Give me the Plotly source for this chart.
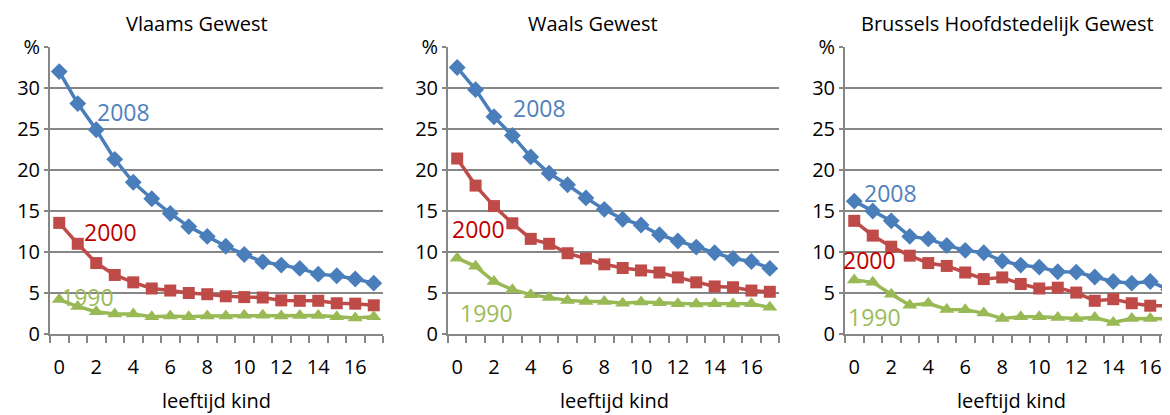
import plotly.graph_objects as go

ages = list(range(18))

regions = ["Vlaams Gewest", "Waals Gewest", "Brussels Hoofdstedelijk Gewest"]
years = ["2008", "2000", "1990"]

vl_2008 = [32.0, 28.1, 24.9, 21.3, 18.5, 16.5, 14.7, 13.1, 11.9, 10.7, 9.7, 8.8, 8.4, 8.0, 7.3, 7.1, 6.7, 6.2]
vl_2000 = [13.55, 11.0, 8.65, 7.2, 6.3, 5.55, 5.3, 5.0, 4.85, 4.6, 4.5, 4.45, 4.1, 4.05, 4.05, 3.75, 3.7, 3.5]
vl_1990 = [4.2, 3.35, 2.7, 2.45, 2.45, 2.1, 2.2, 2.1, 2.2, 2.2, 2.3, 2.3, 2.2, 2.25, 2.25, 2.1, 1.95, 2.1]

wa_2008 = [32.5, 29.8, 26.5, 24.2, 21.6, 19.6, 18.2, 16.6, 15.2, 14.0, 13.3, 12.1, 11.35, 10.6, 9.9, 9.2, 8.85, 8.0]
wa_2000 = [21.4, 18.1, 15.6, 13.5, 11.6, 11.0, 9.85, 9.2, 8.5, 8.05, 7.75, 7.5, 6.9, 6.3, 5.8, 5.7, 5.3, 5.15]
wa_1990 = [9.25, 8.25, 6.4, 5.4, 4.8, 4.45, 4.1, 3.95, 3.95, 3.75, 3.9, 3.8, 3.7, 3.65, 3.7, 3.65, 3.7, 3.25]

br_2008 = [16.2, 15.0, 13.8, 11.9, 11.6, 10.8, 10.2, 9.9, 8.9, 8.4, 8.15, 7.6, 7.55, 6.95, 6.4, 6.2, 6.4, 5.4]
br_2000 = [13.8, 12.0, 10.65, 9.55, 8.65, 8.3, 7.5, 6.7, 6.9, 6.1, 5.55, 5.65, 5.05, 4.05, 4.25, 3.75, 3.45, 3.45]
br_1990 = [6.6, 6.3, 4.85, 3.5, 3.75, 3.0, 2.95, 2.55, 1.9, 2.1, 2.1, 2.0, 1.9, 2.0, 1.4, 1.9, 1.9, 1.85]

x_ticks = [0, 2, 4, 6, 8, 10, 12, 14, 16]
y_ticks = [0, 5, 10, 15, 20, 25, 30, 35]
y_ticktext = ["0", "5", "10", "15", "20", "25", "30", "%"]
x_title = "leeftijd kind"

data = {
    0: [vl_2008, vl_2000, vl_1990],
    1: [wa_2008, wa_2000, wa_1990],
    2: [br_2008, br_2000, br_1990],
}

line_colors = ["#4A7EBB", "#BE4B48", "#98B954"]
label_colors = ["#4F81BD", "#C00000", "#9BBB59"]
symbols = ["diamond", "square", "triangle-up"]
msizes = [13, 12, 13]

FONT = "Open Sans"
# the page body adds an 8px margin; figure sized so it ends at the window edge
W, H = 1162, 407
px_left = [42, 440, 837]
px_right = [375, 771, 1162]
ranges = [[-0.5, 17.5], [-0.5, 17.5], [-0.5, -0.5 + (1162 - 837) / 18.5]]
y_top_px, y_bot_px = 39, 326

fig = go.Figure()
for i in range(3):
    sfx = "" if i == 0 else str(i + 1)
    for j in range(3):
        fig.add_trace(go.Scatter(
            x=ages, y=data[i][j], mode="lines+markers",
            line=dict(color=line_colors[j], width=3.5),
            marker=dict(symbol=symbols[j], size=msizes[j], color=line_colors[j]),
            xaxis="x" + sfx, yaxis="y" + sfx, showlegend=False, name=years[j],
        ))
    fig.layout["xaxis" + sfx] = dict(
        domain=[px_left[i] / W, px_right[i] / W], range=ranges[i],
        anchor="y" + sfx, tickmode="array", tickvals=x_ticks,
        ticks="", showgrid=False, zeroline=False, automargin=False,
        showline=True, linecolor="#868686", linewidth=2,
        tickfont=dict(family=FONT, size=20, color="#000"),
        ticklabelstandoff=14,
        minor=dict(tick0=-0.5, dtick=1, ticks="outside", ticklen=7,
                   tickcolor="#868686", tickwidth=2, showgrid=False),
    )
    fig.layout["yaxis" + sfx] = dict(
        domain=[1 - y_bot_px / H, 1 - y_top_px / H], range=[0, 35],
        anchor="x" + sfx, tickmode="array", tickvals=y_ticks, ticktext=y_ticktext,
        ticks="outside", ticklen=4, tickcolor="#868686", tickwidth=2,
        showgrid=True, gridcolor="#868686", gridwidth=2, zeroline=False,
        showline=True, linecolor="#868686", linewidth=2, automargin=False,
        tickfont=dict(family=FONT, size=20, color="#000"),
    )

titles_x = [189, 585, 999]
ann = []
for i in range(3):
    ann.append(dict(text=regions[i], x=titles_x[i] / W, y=1 - 16 / H, xref="paper", yref="paper",
                    showarrow=False, font=dict(family=FONT, size=20, color="#000"),
                    xanchor="center", yanchor="middle"))
    ann.append(dict(text=x_title, x=(px_left[i] + 166.5) / W, y=0,
                    xref="paper", yref="paper", showarrow=False,
                    font=dict(family=FONT, size=20, color="#000"),
                    xanchor="center", yanchor="bottom", borderpad=0))

label_pos = {
    0: [(3.45, 27.1), (2.77, 12.45), (1.53, 4.5)],
    1: [(4.45, 27.6), (1.17, 12.8), (1.62, 2.55)],
    2: [(1.96, 17.25), (0.85, 9.0), (1.12, 2.05)],
}
for i in range(3):
    sfx = "" if i == 0 else str(i + 1)
    for j in range(3):
        lx, ly = label_pos[i][j]
        ann.append(dict(text=years[j], x=lx, y=ly, xref="x" + sfx, yref="y" + sfx,
                        showarrow=False, font=dict(family=FONT, size=23, color=label_colors[j]),
                        xanchor="center", yanchor="middle"))

fig.update_layout(
    width=W, height=H, margin=dict(l=0, r=0, t=0, b=0, autoexpand=False),
    paper_bgcolor="white", plot_bgcolor="white",
    annotations=ann, showlegend=False,
)

fig.write_html("out.html", config={"responsive": False})
